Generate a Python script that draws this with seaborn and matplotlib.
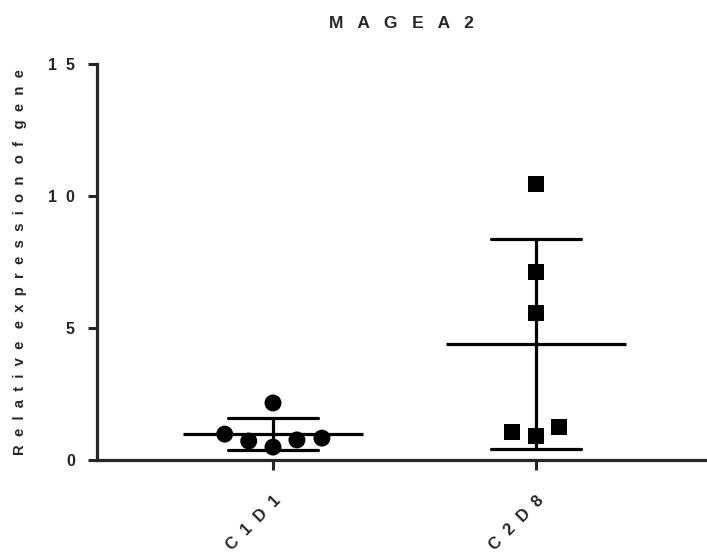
import numpy as np
import pandas as pd
import matplotlib
matplotlib.use('Agg')
import matplotlib.pyplot as plt
import seaborn as sns

# data
order = ['C1D1', 'C2D8']
c1d1 = [0.98, 0.76, 2.16, 0.49, 0.72, 0.83]
c2d8 = [10.45, 7.12, 5.57, 1.25, 0.91, 1.06]
y_ticks = [0, 5, 10, 15]

df = pd.DataFrame({
    'sample': ['C1D1'] * len(c1d1) + ['C2D8'] * len(c2d8),
    'value': c1d1 + c2d8,
})


def spaced(s, gap=2, word_gap=4):
    # Prism-style letter spacing, words get a wider gap
    return (' ' * word_gap).join((' ' * gap).join(w) for w in s.split(' '))


sns.set_style('ticks')
plt.rcParams['font.family'] = ['Liberation Sans', 'DejaVu Sans']
plt.rcParams['font.weight'] = 'bold'

fig = plt.figure(figsize=(7.07, 5.54), dpi=100)
ax = fig.add_axes([97 / 707, 1 - 460 / 554, (706 - 97) / 707, (460 - 64) / 554])

# mean line + SD whiskers
sns.pointplot(data=df, x='sample', y='value', order=order, errorbar='sd',
              capsize=0.34, marker='_', markersize=130, markeredgewidth=2.3,
              linestyle='none', color='black', err_kws={'linewidth': 2.3},
              ax=ax)

# individual points
sns.swarmplot(data=df[df['sample'] == 'C1D1'], x='sample', y='value',
              order=order, marker='o', size=12.2, color='black',
              edgecolor='none', linewidth=5, ax=ax)
sns.swarmplot(data=df[df['sample'] == 'C2D8'], x='sample', y='value',
              order=order, marker='s', size=11.5, color='black',
              edgecolor='none', linewidth=5.5, ax=ax)

ax.set_xlim(-0.669, 1.646)
ax.set_ylim(0, 15)
ax.set_yticks(y_ticks)
ax.set_yticklabels([spaced(str(t)) for t in y_ticks], fontsize=11.5,
                   fontweight='bold')
ax.set_xticks(range(len(order)))
ax.set_xticklabels([spaced(o) for o in order], rotation=45, ha='right',
                   rotation_mode='anchor', fontsize=12, fontweight='bold')
ax.tick_params(axis='y', length=6.5, width=2.2, pad=9.5)
ax.tick_params(axis='x', length=7, width=2.2, pad=17)

for side in ['left', 'bottom']:
    ax.spines[side].set_linewidth(2.3)
sns.despine(ax=ax)

ax.set_xlabel('')
ax.set_ylabel(spaced('Relative expression of gene', gap=2, word_gap=3),
              fontsize=10.7, fontweight='bold', labelpad=15)
ax.set_title(spaced('MAGEA2', gap=3), fontsize=12.5, fontweight='bold',
             pad=26)

plt.savefig('out.png', dpi=100)
